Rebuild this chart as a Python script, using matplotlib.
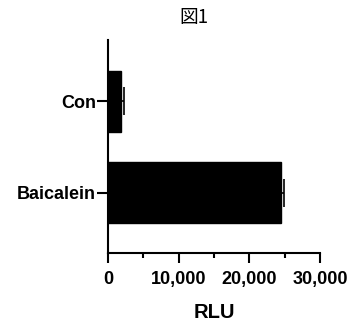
import matplotlib.pyplot as plt
from matplotlib.ticker import FuncFormatter, MultipleLocator

groups = ["Baicalein", "Con"]
rlu_mean = [24480, 1840]
rlu_err = [420, 420]
x_ticks = [0, 10000, 20000, 30000]

plt.rcParams["font.family"] = ["Liberation Sans", "DejaVu Sans"]

fig = plt.figure(figsize=(3.5, 3.21), dpi=100)
ax = fig.add_axes([108 / 350, 68 / 321, 212 / 350, 213 / 321])

pos = list(range(len(groups)))
ax.barh(pos, rlu_mean, height=0.67, color="black", edgecolor="black")
ax.errorbar(rlu_mean, pos, xerr=[[0] * len(rlu_err), rlu_err], fmt="none",
            ecolor="black", elinewidth=1.2, capsize=10, capthick=1.2)

ax.set_xlim(0, 30000)
ax.set_ylim(-0.66, 1.67)
ax.set_xticks(x_ticks)
ax.xaxis.set_minor_locator(MultipleLocator(5000))
ax.xaxis.set_major_formatter(FuncFormatter(lambda v, p: f"{int(v):,}"))
ax.set_yticks(pos)
ax.set_yticklabels(groups)

for s in ["top", "right"]:
    ax.spines[s].set_visible(False)
for s in ["left", "bottom"]:
    ax.spines[s].set_linewidth(1.5)

ax.tick_params(axis="both", which="major", width=1.5, labelsize=13)
ax.tick_params(axis="y", which="major", length=8, pad=0.5)
ax.tick_params(axis="x", which="major", length=7, pad=6)
ax.tick_params(axis="x", which="minor", length=3.6, width=1.5)
for lab in ax.get_xticklabels() + ax.get_yticklabels():
    lab.set_fontweight("bold")

ax.set_xlabel("RLU", fontsize=14.5, fontweight="bold", labelpad=10.5)
fig.text(194 / 350, 1 - 18 / 321, "図1", ha="center", va="center", fontsize=13.5,
         family=["Noto Sans CJK JP", "DejaVu Sans"])

fig.savefig("out.png", dpi=100)
